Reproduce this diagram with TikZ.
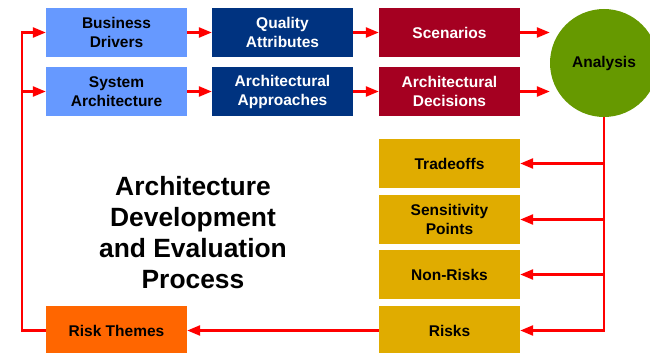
\documentclass[tikz,border=0pt]{standalone}
\usepackage{fontspec}
\setmainfont{Liberation Sans}
\usetikzlibrary{arrows.meta}
\definecolor{lblue}{HTML}{6699FF}
\definecolor{dblue}{HTML}{003380}
\definecolor{crim}{HTML}{A50021}
\definecolor{agreen}{HTML}{669900}
\definecolor{gold}{HTML}{E0AC00}
\definecolor{orng}{HTML}{FF6600}
\definecolor{ared}{HTML}{FF0000}
\tikzset{
  box/.style={rectangle, minimum width=141pt, minimum height=49pt, inner sep=0pt,
    align=center, font=\fontsize{15.5}{19}\selectfont\bfseries},
  lb/.style={box, fill=lblue, text=black},
  db/.style={box, fill=dblue, text=white},
  cb/.style={box, fill=crim, text=white},
  gb/.style={box, fill=gold, text=black},
  ob/.style={box, fill=orng, text=black},
  arr/.style={draw=ared, line width=2.5pt, -{Triangle[length=13pt,width=10pt]}},
  ln/.style={draw=ared, line width=2.5pt}
}
\begin{document}
\begin{tikzpicture}[x=1pt,y=-1pt]
\useasboundingbox (0,0) rectangle (650,353);
\node[lb] (bd) at (116.5,32.5) {Business\\Drivers};
\node[lb] (sa) at (116.5,91.5) {System\\Architecture};
\node[db] (qa) at (282.5,32.5) {Quality\\Attributes};
\node[db] (aa) at (282.5,91.5) {Architectural\\Approaches};
\node[cb] (sc) at (449.5,32.5) {Scenarios};
\node[cb] (ad) at (449.5,91.5) {Architectural\\Decisions};
\node[circle, fill=agreen, minimum size=108pt, inner sep=0pt,
  font=\fontsize{15.5}{19}\selectfont\bfseries] (an) at (604,63) {Analysis};
\node[gb] (tr) at (449.5,163.5) {Tradeoffs};
\node[gb] (sp) at (449.5,219.5) {Sensitivity\\Points};
\node[gb] (nr) at (449.5,274.5) {Non-Risks};
\node[gb] (ri) at (449.5,330.5) {Risks};
\node[ob] (rt) at (116.5,330.5) {Risk Themes};
\node[align=center, font=\fontsize{26.4}{31}\selectfont\bfseries] (title) at (193,232.5)
  {Architecture\\Development\\and Evaluation\\Process};
\coordinate (lp) at (22,0);
\draw[arr] (bd.east) -- (qa.west);
\draw[arr] (sa.east) -- (aa.west);
\draw[arr] (qa.east) -- (sc.west);
\draw[arr] (aa.east) -- (ad.west);
\draw[arr] (sc.east) -- (sc.east -| an.west);
\draw[arr] (ad.east) -- (ad.east -| an.west);
\draw[arr] (an.south) |- (ri.east);
\draw[arr] (an.south |- tr.east) -- (tr.east);
\draw[arr] (an.south |- sp.east) -- (sp.east);
\draw[arr] (an.south |- nr.east) -- (nr.east);
\draw[arr] (ri.west) -- (rt.east);
\draw[arr] (rt.west) -| (lp |- bd.west) -- (bd.west);
\draw[arr] (lp |- sa.west) -- (sa.west);
\end{tikzpicture}
\end{document}
